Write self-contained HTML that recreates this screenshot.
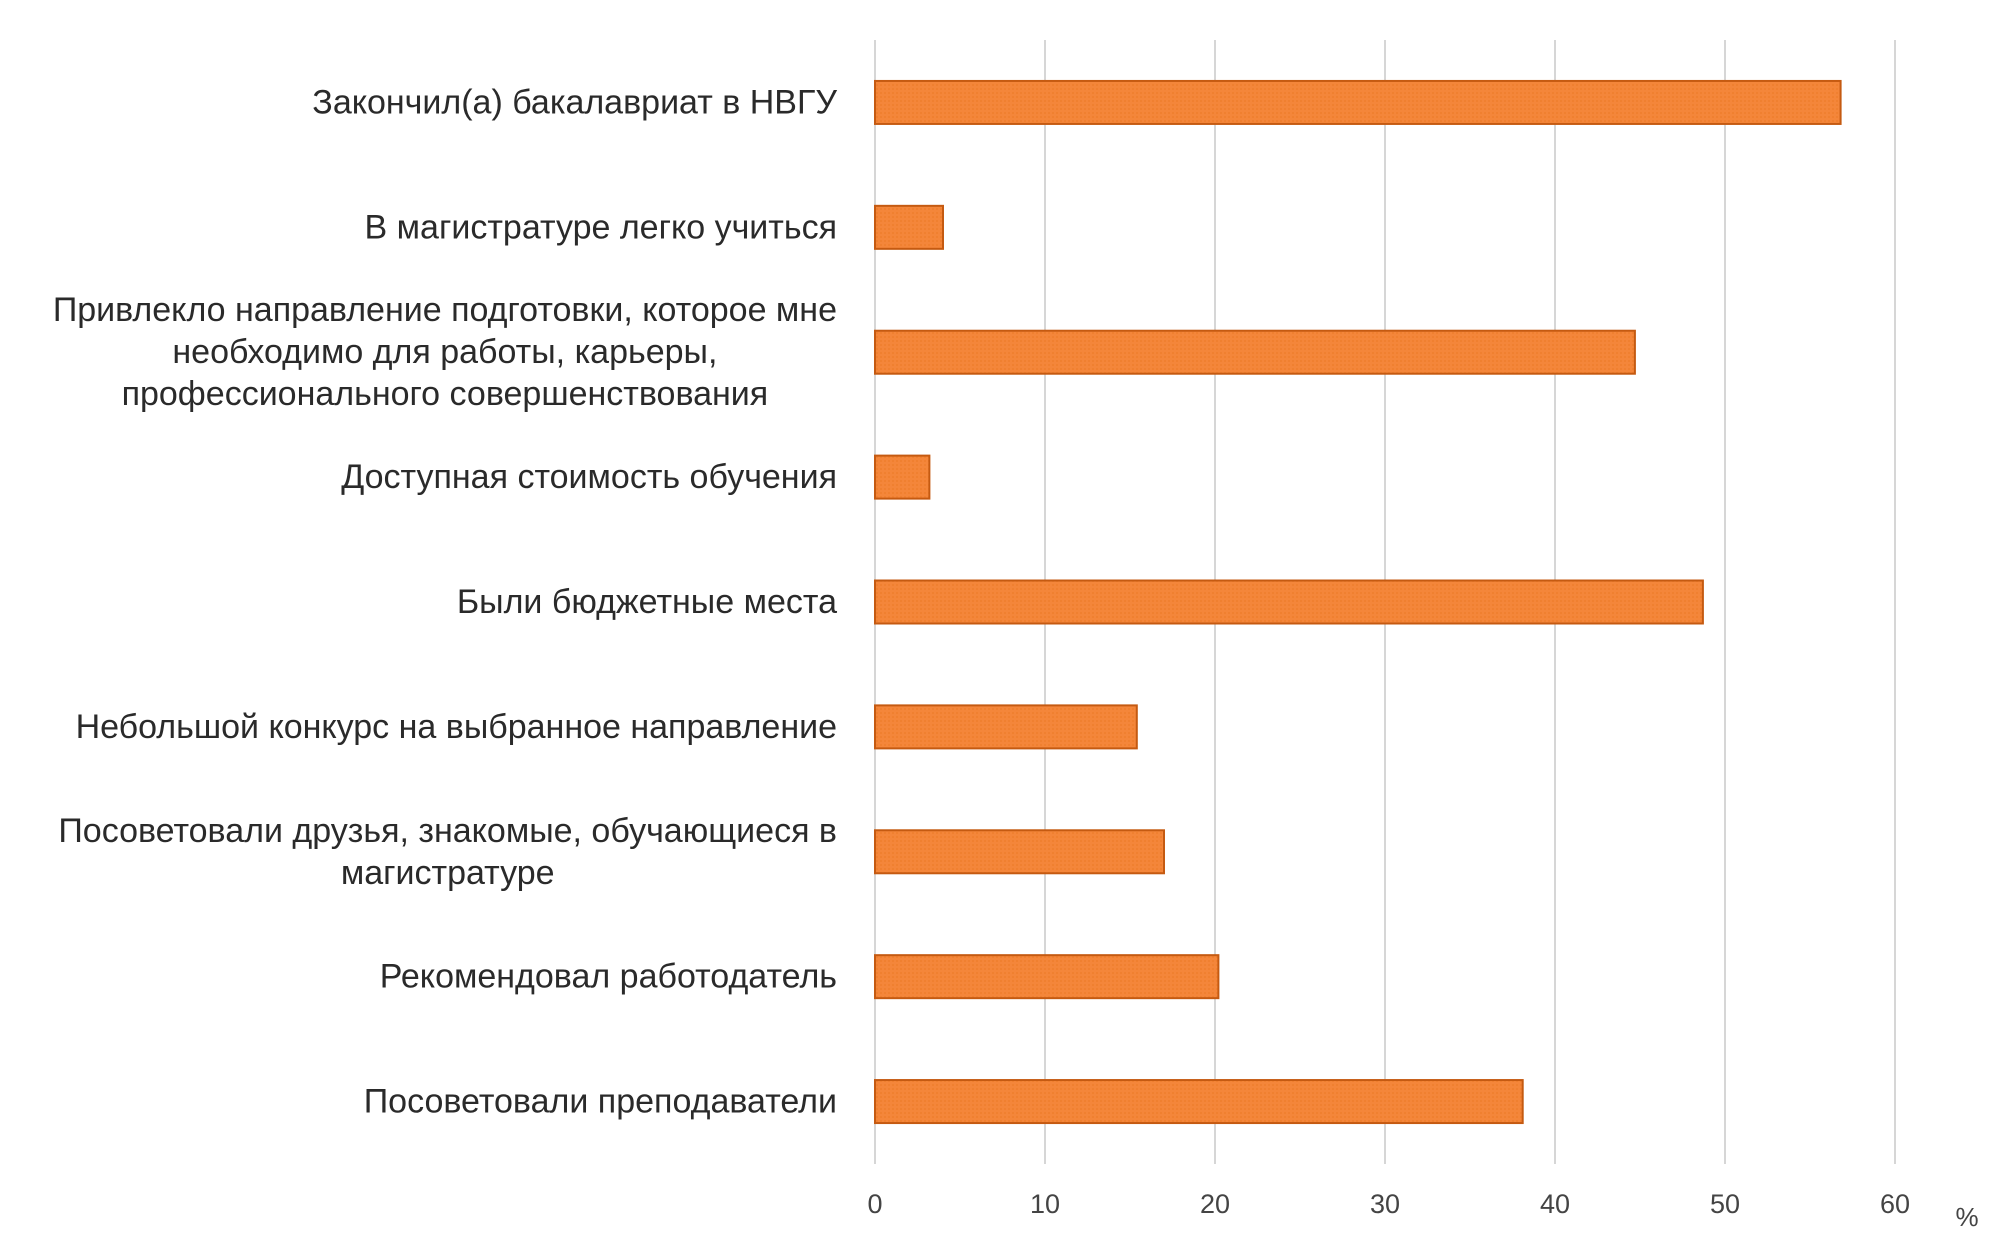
<!DOCTYPE html>
<html><head><meta charset="utf-8"><style>
html,body{margin:0;padding:0;background:#fff;}
svg{display:block;font-family:"Liberation Sans",sans-serif;}
</style></head><body>
<svg id="chart" width="1993" height="1252" viewBox="0 0 1993 1252">
<defs>
<pattern id="hatch" width="4" height="4" patternUnits="userSpaceOnUse">
<rect width="4" height="4" fill="#f4863a"/><rect width="2" height="2" fill="#f08030"/>
</pattern>
</defs>
<g id="grid"></g>
<g id="bars"></g>
<g id="cats"></g>
<g id="ticks"></g>
<text x="1967" y="1226" font-size="26" fill="#444" text-anchor="middle">%</text>
</svg>
<script>
const categories = [
 ["Закончил(а) бакалавриат в НВГУ"],
 ["В магистратуре легко учиться"],
 ["Привлекло направление подготовки, которое мне","необходимо для работы, карьеры,","профессионального совершенствования"],
 ["Доступная стоимость обучения"],
 ["Были бюджетные места"],
 ["Небольшой конкурс на выбранное направление"],
 ["Посоветовали друзья, знакомые, обучающиеся в","магистратуре"],
 ["Рекомендовал работодатель"],
 ["Посоветовали преподаватели"]
];
const values = [56.8, 4.0, 44.7, 3.2, 48.7, 15.4, 17.0, 20.2, 38.1];
const tickValues = [0,10,20,30,40,50,60];
const tickLabels = ["0","10","20","30","40","50","60"];

const NS="http://www.w3.org/2000/svg";
const x0=875, x1=1895, xmax=60;
const xs=v=>x0+(v/xmax)*(x1-x0);
const yTop=40, yBottom=1164, nCat=categories.length;
const band=(yBottom-yTop)/nCat;
const yc=i=>yTop+band*(i+0.5);
const bh=43;
function mk(t,a,p){const e=document.createElementNS(NS,t);for(const k in a)e.setAttribute(k,a[k]);p.appendChild(e);return e;}
const grid=document.getElementById('grid'), bars=document.getElementById('bars'), cats=document.getElementById('cats'), ticks=document.getElementById('ticks');
tickValues.forEach((v,i)=>{
 const l=mk('line',{x1:xs(v),x2:xs(v),y1:yTop,y2:yBottom,stroke:'#c8c8c8','stroke-width':1.5},grid);
 
 
 const t=mk('text',{x:xs(v),y:1213,'font-size':27,fill:'#444','text-anchor':'middle'},ticks);
 t.textContent=tickLabels[i];
 
 
});
values.forEach((v,i)=>{
 const r=mk('rect',{x:xs(0),y:yc(i)-bh/2,width:xs(v)-xs(0),height:bh,fill:'url(#hatch)',stroke:'#c55a11','stroke-width':2},bars);
 
 
});
const rightEdge=837, lh=42;
categories.forEach((lines,i)=>{
 const g=mk('g',{},cats);
 
 
 const y0=yc(i)-(lines.length-1)*lh/2+11;
 const els=lines.map((s,j)=>{const t=mk('text',{x:rightEdge,y:y0+j*lh,'font-size':34,fill:'#2a2a2a','text-anchor':'end'},g);t.textContent=s;return t;});
 if(lines.length>1){
  const w=Math.max(...els.map(e=>e.getComputedTextLength()));
  els.forEach(e=>{e.setAttribute('text-anchor','middle');e.setAttribute('x',rightEdge-w/2);});
 }
});
</script>
</body></html>
